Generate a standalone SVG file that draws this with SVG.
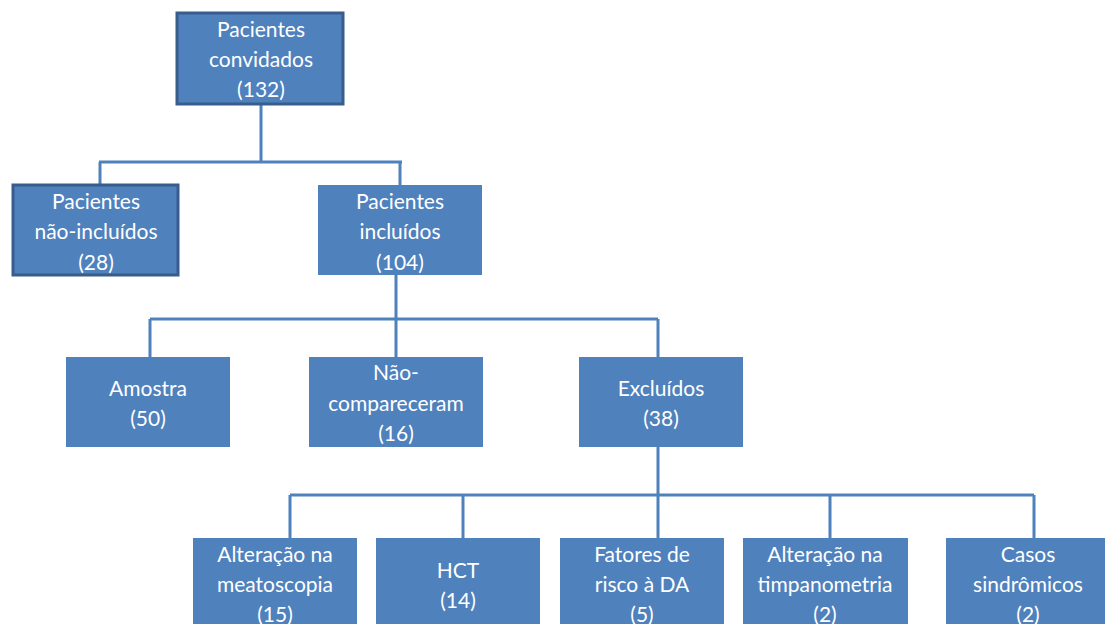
<svg xmlns="http://www.w3.org/2000/svg" width="1105" height="624" viewBox="0 0 1105 624">
<style>
.box{fill:#4f81bd}
.bd{stroke:#385d8a;stroke-width:3}
.t{fill:#fff;font-family:Lato,"Open Sans",sans-serif;font-size:21px;text-anchor:middle}
.c{fill:none;stroke:#4f81bd;stroke-width:3}
</style>
<rect width="1105" height="624" fill="#fff"/>
<g id="connectors">
<path class="c" d="M261 104V162M99 162H402M100 162V184M400 162V185"/>
<path class="c" d="M396 275V357M150 319H658M150 319V357M658 319V357"/>
<path class="c" d="M658 447V538M290 495H1034M290 495V538M463 495V538M830 495V538M1034 495V538"/>
</g>
<g id="n1"><rect class="box bd" x="177" y="13" width="166" height="91"/>
<text class="t" x="261" y="37">Pacientes</text><text class="t" x="261" y="67">convidados</text><text class="t" x="261" y="97">(132)</text></g>
<g id="n2"><rect class="box bd" x="13" y="185" width="165" height="90"/>
<text class="t" x="96" y="209">Pacientes</text><text class="t" x="96" y="239">não-incluídos</text><text class="t" x="96" y="270">(28)</text></g>
<g id="n3"><rect class="box" x="318" y="185" width="164" height="90"/>
<text class="t" x="400" y="209">Pacientes</text><text class="t" x="400" y="239">incluídos</text><text class="t" x="400" y="270">(104)</text></g>
<g id="n4"><rect class="box" x="66" y="357" width="164" height="90"/>
<text class="t" x="148" y="396">Amostra</text><text class="t" x="148" y="426">(50)</text></g>
<g id="n5"><rect class="box" x="309" y="357" width="174" height="90"/>
<text class="t" x="396" y="380">Não-</text><text class="t" x="396" y="411">compareceram</text><text class="t" x="396" y="441">(16)</text></g>
<g id="n6"><rect class="box" x="579" y="357" width="164" height="90"/>
<text class="t" x="661" y="396">Excluídos</text><text class="t" x="661" y="426">(38)</text></g>
<g id="n7"><rect class="box" x="193" y="538" width="164" height="90"/>
<text class="t" x="275" y="562">Alteração na</text><text class="t" x="275" y="592">meatoscopia</text><text class="t" x="275" y="622">(15)</text></g>
<g id="n8"><rect class="box" x="376" y="538" width="164" height="90"/>
<text class="t" x="458" y="578">HCT</text><text class="t" x="458" y="608">(14)</text></g>
<g id="n9"><rect class="box" x="560" y="538" width="164" height="90"/>
<text class="t" x="642" y="562">Fatores de</text><text class="t" x="642" y="592">risco à DA</text><text class="t" x="642" y="622">(5)</text></g>
<g id="n10"><rect class="box" x="743" y="538" width="165" height="90"/>
<text class="t" x="825" y="562">Alteração na</text><text class="t" x="825" y="592">timpanometria</text><text class="t" x="825" y="622">(2)</text></g>
<g id="n11"><rect class="box" x="946" y="538" width="165" height="90"/>
<text class="t" x="1028" y="562">Casos</text><text class="t" x="1028" y="592">sindrômicos</text><text class="t" x="1028" y="622">(2)</text></g>
</svg>
